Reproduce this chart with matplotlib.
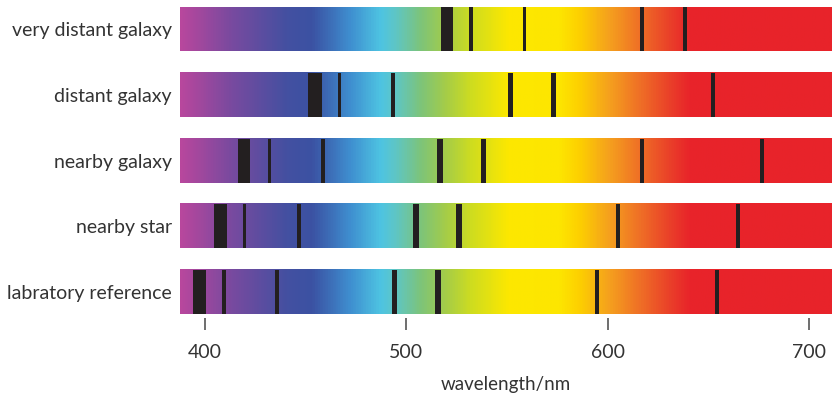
import numpy as np
import matplotlib
matplotlib.use("Agg")
import matplotlib.pyplot as plt
from matplotlib.colors import LinearSegmentedColormap

plt.rcParams['font.family'] = ['Lato', 'DejaVu Sans']

# rows, bottom to top
names = ["labratory reference", "nearby star", "nearby galaxy",
         "distant galaxy", "very distant galaxy"]

# absorption line centres (nm) and widths (nm)
lab_centres = [397.3, 409.5, 435.9, 494.3, 515.7, 594.7, 654.1]
lab_widths = [6.3, 1.7, 2.1, 2.5, 2.8, 2.1, 2.0]
star_centres = [407.9, 419.8, 446.6, 504.8, 526.1, 605.1, 664.5]
star_widths = [6.3, 1.6, 2.0, 2.8, 2.8, 2.1, 2.0]
near_centres = [419.5, 432.0, 458.6, 516.7, 538.2, 617.1, 676.5]
near_widths = [6.3, 1.6, 2.1, 2.7, 2.8, 2.1, 1.8]
dist_centres = [454.7, 466.9, 493.5, 551.8, 573.1, 652.2, 712.0]
dist_widths = [6.6, 1.3, 2.1, 2.6, 2.8, 2.1, 2.0]
vdist_centres = [520.2, 532.2, 558.7, 617.1, 638.4]
vdist_widths = [6.3, 2.1, 1.6, 2.1, 2.1]

centres = [lab_centres, star_centres, near_centres, dist_centres, vdist_centres]
widths = [lab_widths, star_widths, near_widths, dist_widths, vdist_widths]

ticks = [400, 500, 600, 700]
wl_min, wl_max = 387.7, 711.2

# spectrum colours (nm, colour)
stops = [(387.7, "#b8479d"), (412, "#7a4a9f"), (440, "#4450a1"),
         (453, "#3b52a3"), (472, "#3f8fd0"), (487, "#4ec4e2"),
         (494, "#5dc6c8"), (507, "#7dc47a"), (519, "#a3cc4a"),
         (532, "#cedc20"), (551, "#fde800"), (576, "#fde600"),
         (586, "#fdd000"), (601, "#f5a01e"), (616, "#ef7026"),
         (631, "#ea4029"), (641, "#e8242a"), (711.2, "#e8232a")]
cmap = LinearSegmentedColormap.from_list(
    "spec", [((w - wl_min) / (wl_max - wl_min), c) for w, c in stops])

fig = plt.figure(figsize=(8.32, 3.97), dpi=100)
ax = fig.add_axes([180 / 832, 1 - 314 / 397, 1 - 180 / 832, (314 - 7.3) / 397])

h = 0.67
grad = np.linspace(0, 1, 1000)[None, :]
for i in range(len(names)):
    ax.imshow(grad, cmap=cmap, aspect='auto',
              extent=(wl_min, wl_max, i - h / 2, i + h / 2), zorder=1)
    ax.bar(centres[i], h, width=widths[i], bottom=i - h / 2,
           color="#231f20", zorder=2)

ax.set_xlim(wl_min, wl_max)
ax.set_ylim(-h / 2, len(names) - 1 + h / 2)

for s in ax.spines.values():
    s.set_visible(False)
ax.spines['bottom'].set_position(('outward', 3))

ax.set_xticks(ticks)
ax.set_xticklabels([str(t) for t in ticks])
ax.tick_params(axis='x', direction='out', length=8.5, width=1.2,
               color="#555555", pad=10, labelsize=14, labelcolor="#333333")
ax.set_yticks(range(len(names)))
ax.set_yticklabels(names)
ax.tick_params(axis='y', length=0, pad=6, labelsize=14, labelcolor="#333333")
ax.set_xlabel("wavelength/nm", fontsize=13.5, color="#333333", labelpad=11)

fig.savefig("out.png", dpi=100)
